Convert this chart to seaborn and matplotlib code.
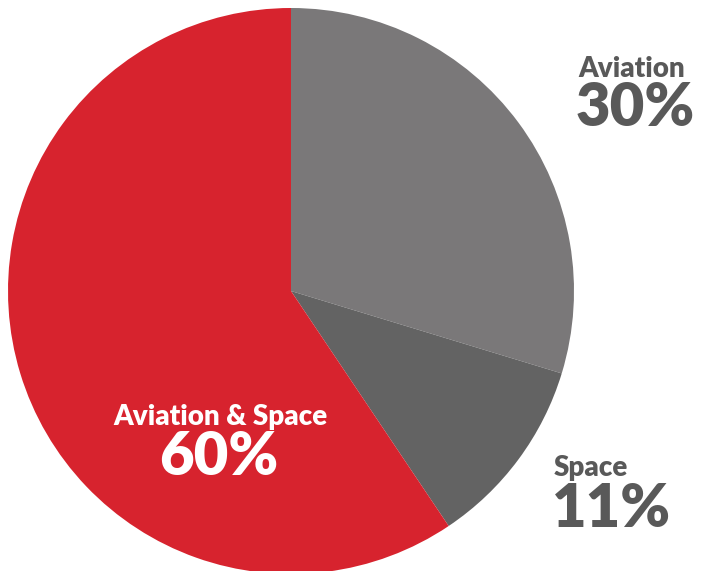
import matplotlib
matplotlib.use("Agg")
import matplotlib.pyplot as plt
import seaborn as sns

# Data
categories = ["Aviation", "Space", "Aviation & Space"]
values = [30, 11, 60]
pct_labels = ["30%", "11%", "60%"]

sns.set_theme(style="white")
plt.rcParams['font.family'] = ['Lato', 'DejaVu Sans']

colors = ["#7a7879", "#636363", "#d7232e"]

W, H = 704, 571
fig = plt.figure(figsize=(W / 100, H / 100), dpi=100)
ax = fig.add_axes([0, 0, 1, 1])
ax.pie(values, colors=colors, startangle=90, counterclock=False,
       center=(291, H - 291), radius=283, normalize=True,
       wedgeprops=dict(linewidth=0))
ax.set_xlim(0, W)
ax.set_ylim(0, H)
ax.set_aspect("equal")
ax.axis("off")

gray = "#595959"
lw = "heavy"
# Aviation
ax.text(578, H - 77, categories[0], color=gray, fontsize=20, fontweight=lw,
        ha="left", va="baseline")
ax.text(576, H - 126, pct_labels[0], color=gray, fontsize=43, fontweight=lw,
        ha="left", va="baseline")
# Space
ax.text(554, H - 476, categories[1], color=gray, fontsize=20, fontweight=lw,
        ha="left", va="baseline")
ax.text(552, H - 527, pct_labels[1], color=gray, fontsize=43, fontweight=lw,
        ha="left", va="baseline")
# Aviation & Space
ax.text(220, H - 425, categories[2], color="white", fontsize=20, fontweight=lw,
        ha="center", va="baseline")
ax.text(219, H - 475, pct_labels[2], color="white", fontsize=43, fontweight=lw,
        ha="center", va="baseline")

fig.savefig("out.png", dpi=100)
